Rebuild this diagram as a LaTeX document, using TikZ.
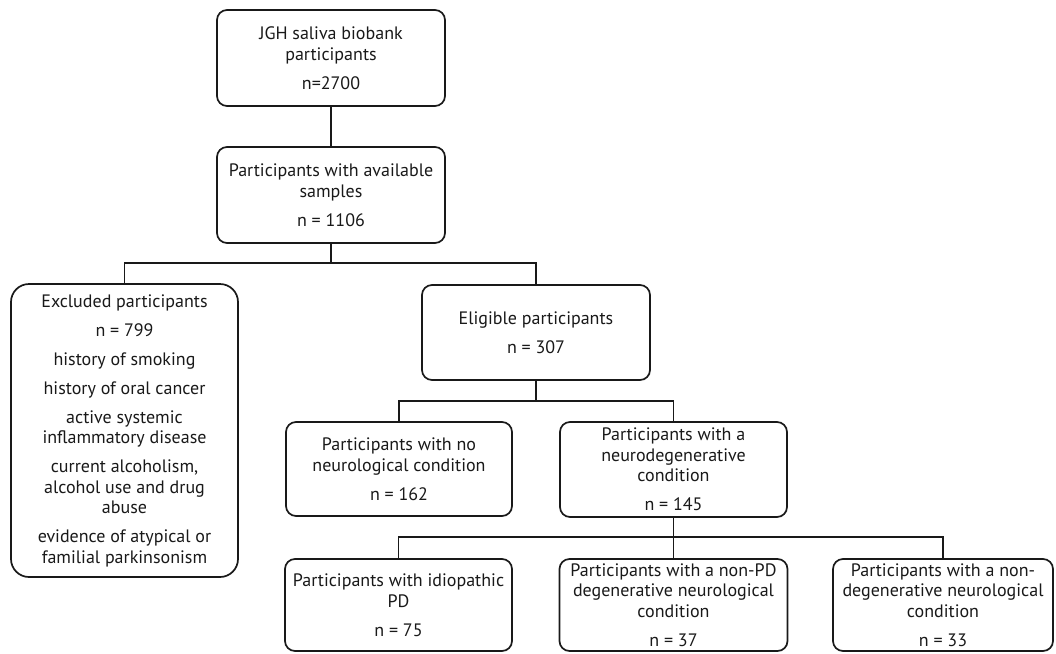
\documentclass[tikz,border=0pt]{standalone}
\usepackage{fontspec}
\setmainfont{PT Sans}
\begin{document}
\begin{tikzpicture}[x=1pt,y=-1pt,
  box/.style={draw=black!90, line width=1.7pt, rounded corners=10pt, inner sep=0pt,
    align=center, font=\fontsize{18}{20.5}\selectfont, text=black!90},
  conn/.style={draw=black!90, line width=1.7pt}]
\useasboundingbox (0,0) rectangle (1056,653);
\node[box, minimum width=228pt, minimum height=96pt] (jgh) at (331,58)
  {JGH saliva biobank\\participants\\[8.5pt] n=2700};
\node[box, minimum width=228pt, minimum height=96pt] (avail) at (331,195)
  {Participants with available\\samples\\[8.5pt] n = 1106};
\node[box, rounded corners=18pt, minimum width=227pt, minimum height=293pt] (excl) at (124.5,430.5)
  {Excluded participants\\[8.5pt] n = 799\\[8.5pt] history of smoking\\[8.5pt] history of oral cancer\\[8.5pt] active systemic\\inflammatory disease\\[8.5pt] current alcoholism,\\alcohol use and drug\\abuse\\[8.5pt] evidence of atypical or\\familial parkinsonism};
\node[box, minimum width=228pt, minimum height=95pt] (elig) at (536,332.5)
  {Eligible participants\\[8.5pt] n = 307};
\node[box, minimum width=226pt, minimum height=94pt] (noneuro) at (399,469)
  {Participants with no\\neurological condition\\[8.5pt] n = 162};
\node[box, minimum width=227pt, minimum height=95pt] (neuro) at (673.5,469.5)
  {Participants with a\\neurodegenerative\\condition\\[8.5pt] n = 145};
\node[box, minimum width=227pt, minimum height=92pt] (ipd) at (398.5,605)
  {Participants with idiopathic\\PD\\[8.5pt] n = 75};
\node[box, minimum width=228pt, minimum height=92pt] (nonpd) at (673.5,605)
  {Participants with a non-PD\\degenerative neurological\\condition\\[8.5pt] n = 37};
\node[box, minimum width=220pt, minimum height=92pt] (nondeg) at (943,605)
  {Participants with a non-\\degenerative neurological\\condition\\[8.5pt] n = 33};
\coordinate (b1) at (0,263);
\coordinate (b2) at (0,401);
\coordinate (b3) at (0,537);
\draw[conn] (jgh.south) -- (avail.north);
\draw[conn] (avail.south) -- (avail.south |- b1);
\draw[conn] (excl.north) -- (excl.north |- b1) -- (elig.north |- b1) -- (elig.north);
\draw[conn] (elig.south) -- (elig.south |- b2);
\draw[conn] (noneuro.north) -- (noneuro.north |- b2) -- (neuro.north |- b2) -- (neuro.north);
\draw[conn] (neuro.south) -- (nonpd.north);
\draw[conn] (ipd.north) -- (ipd.north |- b3) -- (nondeg.north |- b3) -- (nondeg.north);
\end{tikzpicture}
\end{document}
